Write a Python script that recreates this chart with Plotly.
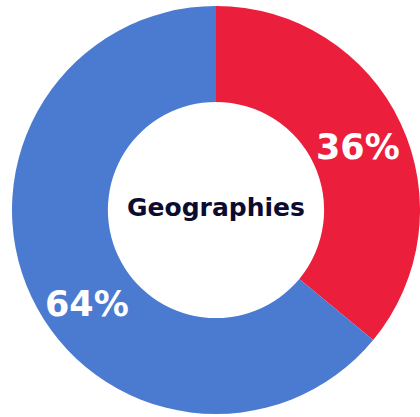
import math
import plotly.graph_objects as go

# Share of geographies
labels = ["Region A", "Region B"]
values = [36, 64]
colors = ["#EB1E3B", "#4A7BD1"]
center_title = "Geographies"

# Angular positions (degrees clockwise from 12 o'clock) and radial fraction for the labels
label_angles = [66, 234]
label_radius = [0.76, 0.78]

W, H = 420, 417
ml, mr, mt, mb = 12, 0, 5, 2

fig = go.Figure(
    go.Pie(
        labels=labels,
        values=values,
        hole=0.53,
        sort=False,
        direction="clockwise",
        rotation=0,
        marker=dict(colors=colors, line=dict(width=0)),
        textinfo="none",
        hoverinfo="label+percent",
        showlegend=False,
    )
)

# Pie geometry in pixels (plotly centres the pie in the plot area)
pw, ph = W - ml - mr, H - mt - mb
R = min(pw, ph) / 2
cx, cy = ml + pw / 2, mt + ph / 2

total = sum(values)
annotations = []
for v, ang, rf in zip(values, label_angles, label_radius):
    a = math.radians(ang)
    px = cx + rf * R * math.sin(a)
    py = cy - rf * R * math.cos(a)
    annotations.append(
        dict(
            x=(px - ml) / pw,
            y=1 - (py - mt) / ph,
            xref="paper",
            yref="paper",
            text=f"<b>{round(100 * v / total)}%</b>",
            showarrow=False,
            font=dict(family="DejaVu Sans", size=35, color="white"),
            xanchor="center",
            yanchor="middle",
        )
    )

annotations.append(
    dict(
        x=0.5,
        y=0.5 + 3 / ph,
        xref="paper",
        yref="paper",
        text=f"<b>{center_title}</b>",
        showarrow=False,
        font=dict(family="DejaVu Sans", size=25, color="#0C0B30"),
        xanchor="center",
        yanchor="middle",
    )
)

fig.update_layout(
    width=W,
    height=H,
    margin=dict(l=ml, r=mr, t=mt, b=mb, pad=0),
    paper_bgcolor="white",
    plot_bgcolor="white",
    annotations=annotations,
)

fig.write_html("out.html")
